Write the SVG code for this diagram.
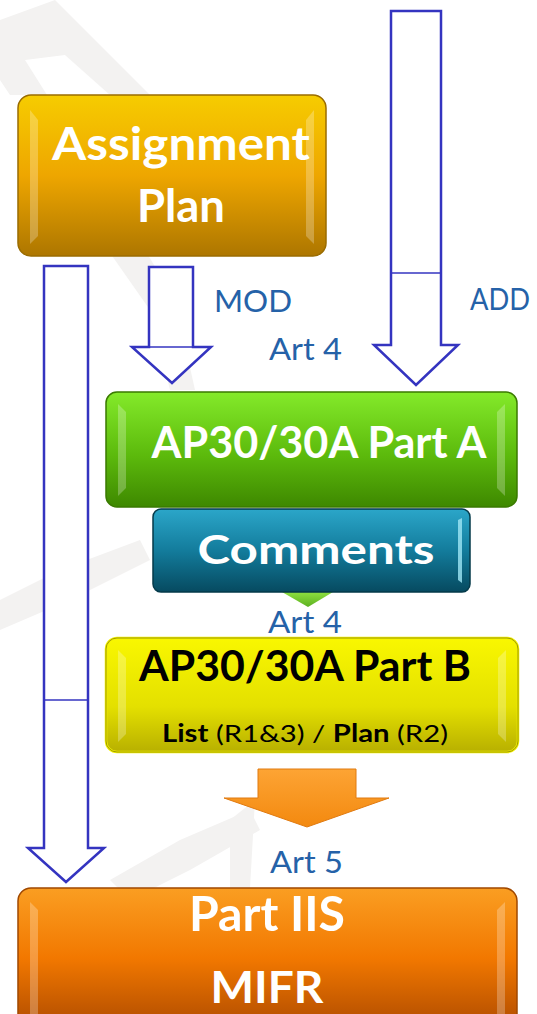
<svg xmlns="http://www.w3.org/2000/svg" width="537" height="1014" viewBox="0 0 537 1014">
<defs>
<linearGradient id="gGold" x1="0" y1="0" x2="0" y2="1"><stop offset="0" stop-color="#f6cc00"/><stop offset="0.5" stop-color="#eea600"/><stop offset="1" stop-color="#ad7600"/></linearGradient>
<linearGradient id="gGreen" x1="0" y1="0" x2="0" y2="1"><stop offset="0" stop-color="#84ea2a"/><stop offset="0.55" stop-color="#5cba0c"/><stop offset="1" stop-color="#3e8800"/></linearGradient>
<linearGradient id="gTeal" x1="0" y1="0" x2="0" y2="1"><stop offset="0" stop-color="#2ba6c9"/><stop offset="0.5" stop-color="#137c9c"/><stop offset="1" stop-color="#064a60"/></linearGradient>
<linearGradient id="gYellow" x1="0" y1="0" x2="0" y2="1"><stop offset="0" stop-color="#f9f700"/><stop offset="0.6" stop-color="#e4e000"/><stop offset="1" stop-color="#b8b000"/></linearGradient>
<linearGradient id="gOrange" x1="0" y1="0" x2="0" y2="1"><stop offset="0" stop-color="#fa9e22"/><stop offset="0.5" stop-color="#f27800"/><stop offset="1" stop-color="#b04c00"/></linearGradient>
<linearGradient id="gArrow" x1="0" y1="0" x2="0" y2="1"><stop offset="0" stop-color="#fda434"/><stop offset="1" stop-color="#f3890f"/></linearGradient>
<linearGradient id="gTri" x1="0" y1="0" x2="0" y2="1"><stop offset="0" stop-color="#8ee040"/><stop offset="1" stop-color="#5cb020"/></linearGradient>
</defs>
<style>
.hollow{fill:#ffffff;stroke:#3434c0;stroke-width:2.5;stroke-linejoin:miter}
.sep{stroke:#3434c0;stroke-width:1.5}
.lbl{font-family:Lato,"Open Sans","Liberation Sans",sans-serif;font-size:31px;fill:#2562a8}
.bt{font-family:Lato,"Open Sans","Liberation Sans",sans-serif;font-weight:bold;fill:#ffffff;text-anchor:middle}
.bk{font-family:Lato,"Open Sans","Liberation Sans",sans-serif;fill:#000000;text-anchor:middle}
.bevel{fill:#ffffff;opacity:0.25}
.wm{fill:#f3f2f1}
</style>
<!-- faint watermark -->
<g id="watermark">
<path class="wm" d="M0,20 L55,0 L150,95 L110,95 L65,55 L25,60 L47,95 L10,95 L0,80 Z"/>
<path class="wm" d="M108,250 L145,250 L175,300 L195,390 L170,390 L150,310 Z"/>
<path class="wm" d="M0,600 L60,570 L140,540 L150,560 L70,600 L0,630 Z"/>
<path class="wm" d="M110,880 L180,840 L250,810 L260,830 L190,870 L130,900 Z"/>
<path class="wm" d="M230,820 L255,800 L250,888 L230,888 Z"/>
</g>
<g id="connectors">
<!-- long left arrow -->
<path class="hollow" d="M44,266 L88,266 L88,848 L104,848 L66,882 L28,848 L44,848 Z"/>
<line class="sep" x1="44" y1="700" x2="88" y2="700"/>
<!-- MOD arrow -->
<path class="hollow" d="M149,267 L193,267 L193,347 L211,347 L172,383 L132,347 L149,347 Z"/>
<line class="sep" x1="149" y1="347" x2="193" y2="347"/>
<!-- ADD arrow -->
<path class="hollow" d="M391,11 L441,11 L441,345 L458,345 L416,385 L374,345 L391,345 Z"/>
<line class="sep" x1="391" y1="273" x2="441" y2="273"/>
<!-- green small triangle -->
<path d="M282,592 L333,592 L308,607 Z" fill="url(#gTri)"/>
<!-- orange arrow -->
<path d="M258,769 L356,769 L356,798 L389,798 L307,827 L224,798 L258,798 Z" fill="url(#gArrow)" stroke="#e07a10" stroke-width="1"/>
</g>
<g id="labels">
<text class="lbl" x="214" y="312" textLength="78" lengthAdjust="spacingAndGlyphs">MOD</text>
<text class="lbl" x="470" y="310" textLength="60" lengthAdjust="spacingAndGlyphs">ADD</text>
<text class="lbl" x="269" y="360" textLength="73" lengthAdjust="spacingAndGlyphs">Art 4</text>
<text class="lbl" x="268" y="633" textLength="74" lengthAdjust="spacingAndGlyphs">Art 4</text>
<text class="lbl" x="270" y="873" textLength="73" lengthAdjust="spacingAndGlyphs">Art 5</text>
</g>
<g id="assignment-plan">
<rect x="18" y="95" width="308" height="161" rx="13" fill="url(#gGold)" stroke="#9a6c00" stroke-width="1.5"/>
<path class="bevel" d="M30,110 L38,120 L38,236 L30,244 Z"/>
<path class="bevel" d="M314,110 L306,120 L306,236 L314,244 Z"/>
<text class="bt" x="181" y="160" font-size="45" textLength="258" lengthAdjust="spacingAndGlyphs">Assignment</text>
<text class="bt" x="181" y="222" font-size="45" textLength="88" lengthAdjust="spacingAndGlyphs">Plan</text>
</g>
<g id="part-a">
<rect x="106" y="392" width="411" height="115" rx="11" fill="url(#gGreen)" stroke="#3a7a00" stroke-width="1.5"/>
<path class="bevel" d="M118,404 L126,412 L126,488 L118,496 Z"/>
<path class="bevel" d="M505,404 L497,412 L497,488 L505,496 Z"/>
<text class="bt" x="319" y="458" font-size="43" textLength="335" lengthAdjust="spacingAndGlyphs">AP30/30A Part A</text>
</g>
<g id="comments">
<rect x="153" y="509" width="317" height="83" rx="8" fill="url(#gTeal)" stroke="#053a4a" stroke-width="1.5"/>
<path d="M458,520 L462,518 L462,583 L458,580 Z" fill="#9fe6f5" opacity="0.8"/>
<text class="bt" x="316" y="564" font-size="40" textLength="237" lengthAdjust="spacingAndGlyphs">Comments</text>
</g>
<g id="part-b">
<rect x="106" y="638" width="412" height="114" rx="11" fill="url(#gYellow)" stroke="#f2f000" stroke-width="2.5"/>
<rect x="106" y="638" width="412" height="114" rx="11" fill="none" stroke="#8a8400" stroke-width="0.8"/>
<path class="bevel" d="M118,650 L126,658 L126,734 L118,742 Z"/>
<path class="bevel" d="M506,650 L498,658 L498,734 L506,742 Z"/>
<text class="bk" x="305" y="681" font-size="42" font-weight="bold" textLength="332" lengthAdjust="spacingAndGlyphs">AP30/30A Part B</text>
<text class="bk" x="305" y="742" font-size="24" textLength="286" lengthAdjust="spacingAndGlyphs"><tspan font-weight="bold">List</tspan> (R1&amp;3) / <tspan font-weight="bold">Plan</tspan> (R2)</text>
</g>
<g id="mifr">
<rect x="18" y="888" width="499" height="140" rx="13" fill="url(#gOrange)" stroke="#a04800" stroke-width="1.5"/>
<path class="bevel" d="M30,902 L38,910 L38,1014 L30,1014 Z" opacity="0.35"/>
<path class="bevel" d="M505,902 L497,910 L497,1014 L505,1014 Z" opacity="0.35"/>
<text class="bt" x="267" y="931" font-size="48" textLength="156" lengthAdjust="spacingAndGlyphs">Part IIS</text>
<text class="bt" x="267" y="1003" font-size="44" textLength="113" lengthAdjust="spacingAndGlyphs">MIFR</text>
</g>
</svg>
